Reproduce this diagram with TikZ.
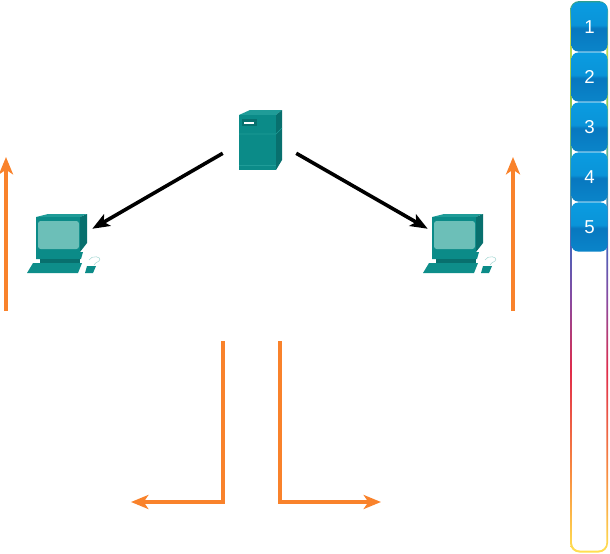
\documentclass[tikz,border=0pt]{standalone}
\usepackage{fontspec}
\setmainfont{Liberation Sans}
\usetikzlibrary{arrows.meta}
\definecolor{linkorange}{HTML}{F9822B}
\definecolor{bodyteal}{HTML}{0B8B88}
\definecolor{topteal}{HTML}{1F9C98}
\definecolor{sideteal}{HTML}{08706E}
\definecolor{screenteal}{HTML}{6CBFB8}
\pgfdeclareverticalshading{barring}{100bp}{
	rgb(0bp)=(1,0.88,0.32);
	rgb(25bp)=(1,0.88,0.32);
	rgb(32.4bp)=(0.97,0.54,0.25);
	rgb(41.5bp)=(0.88,0.17,0.29);
	rgb(47.9bp)=(0.54,0.29,0.63);
	rgb(52.4bp)=(0.31,0.38,0.72);
	rgb(59.6bp)=(0.31,0.66,0.63);
	rgb(66bp)=(0.56,0.78,0.31);
	rgb(72.4bp)=(0.78,0.86,0.31);
	rgb(75bp)=(0.18,0.62,0.56);
	rgb(100bp)=(0.18,0.62,0.56)}
\pgfdeclareverticalshading{btnfill}{100bp}{
	rgb(0bp)=(0.04,0.50,0.78);
	rgb(25bp)=(0.04,0.52,0.79);
	rgb(49bp)=(0.03,0.47,0.75);
	rgb(52bp)=(0.04,0.58,0.85);
	rgb(75bp)=(0.04,0.61,0.88);
	rgb(100bp)=(0.04,0.61,0.88)}
\tikzset{
	link/.style={line width=2.6pt,linkorange,-{Stealth[length=13pt,width=10.5pt,inset=3.5pt]}},
	flow/.style={line width=2.7pt,black,-{Stealth[length=13pt,width=10pt,inset=3pt]}},
	numbtn/.style={shading=btnfill,rounded corners=5pt,minimum width=27pt,minimum height=36.8pt,inner sep=0pt,text=white,font=\fontsize{14}{15}\selectfont},
	hostbox/.style={inner sep=0pt},
	pc/.pic={
		\fill[topteal] (9,3)--(21,0)--(60,0)--(53,3)--cycle;
		\fill[sideteal] (53,3)--(60,0)--(60,29)--(53,38)--cycle;
		\fill[bodyteal] (9,3) rectangle (53,38);
		\fill[screenteal,rounded corners=2pt] (11,7) rectangle (52,35);
		\fill[bodyteal] (9,38)--(56,38)--(54,45)--(9,45)--cycle;
		\fill[sideteal] (13,45) rectangle (53,49);
		\fill[bodyteal!85!topteal] (6,49)--(55,49)--(51,59)--(0,59)--cycle;
		\fill[bodyteal] (60,52)--(69,52)--(66,59)--(58,59)--cycle;
		\draw[screenteal!60,thin] (62,46) .. controls (64,41) and (76,42) .. (72,47) .. controls (70,49) and (67,49) .. (67,51);
	},
	srv/.pic={
		\fill[topteal] (0,5)--(11,0)--(43,0)--(37,5)--cycle;
		\fill[sideteal] (37,5)--(43,0)--(43,50)--(37,60)--cycle;
		\fill[bodyteal] (0,5) rectangle (37,60);
		\draw[topteal,thin] (0,24)--(37,24)--(43,18);
		\draw[topteal,thin] (0,55)--(37,55);
		\fill[sideteal] (3,9) rectangle (18,16);
		\fill[white] (5,12) rectangle (15,14);
	}
}
\begin{document}
\begin{tikzpicture}[x=0.75pt,y=-0.75pt]
	\useasboundingbox (0,0) rectangle (610,553);

	\pic at (239,110) {srv};
	\pic at (27,214) {pc};
	\pic at (423,214) {pc};

	\node[hostbox,minimum width=54.75pt,minimum height=32pt] (server) at (259.5,131.7) {};
	\node[hostbox,minimum width=48pt,minimum height=34pt] (pcleft) at (60,251.7) {};
	\node[hostbox,minimum width=48pt,minimum height=34pt] (pcright) at (460,251.7) {};
	\draw[flow] (server.south west) -- (pcleft.north east);
	\draw[flow] (server.south east) -- (pcright.north west);

	\coordinate (leftfoot) at (6,311);
	\coordinate (lefthead) at (6,157);
	\coordinate (rightfoot) at (513,311);
	\coordinate (righthead) at (513,157);
	\coordinate (downa) at (223,341);
	\coordinate (heada) at (131,502);
	\coordinate (downb) at (280,341);
	\coordinate (headb) at (381,502);
	\draw[link] (leftfoot) -- (lefthead);
	\draw[link] (rightfoot) -- (righthead);
	\draw[link] (downa) |- (heada);
	\draw[link] (downb) |- (headb);

	\shade[shading=barring,rounded corners=7pt] (570,1) rectangle (608,552.5);
	\fill[white,rounded corners=6pt] (572,3) rectangle (606.3,550.5);
	\foreach \n in {1,...,5}
		\node[numbtn] (btn\n) at (589.5,2+50*\n-25) {\n};
\end{tikzpicture}
\end{document}
